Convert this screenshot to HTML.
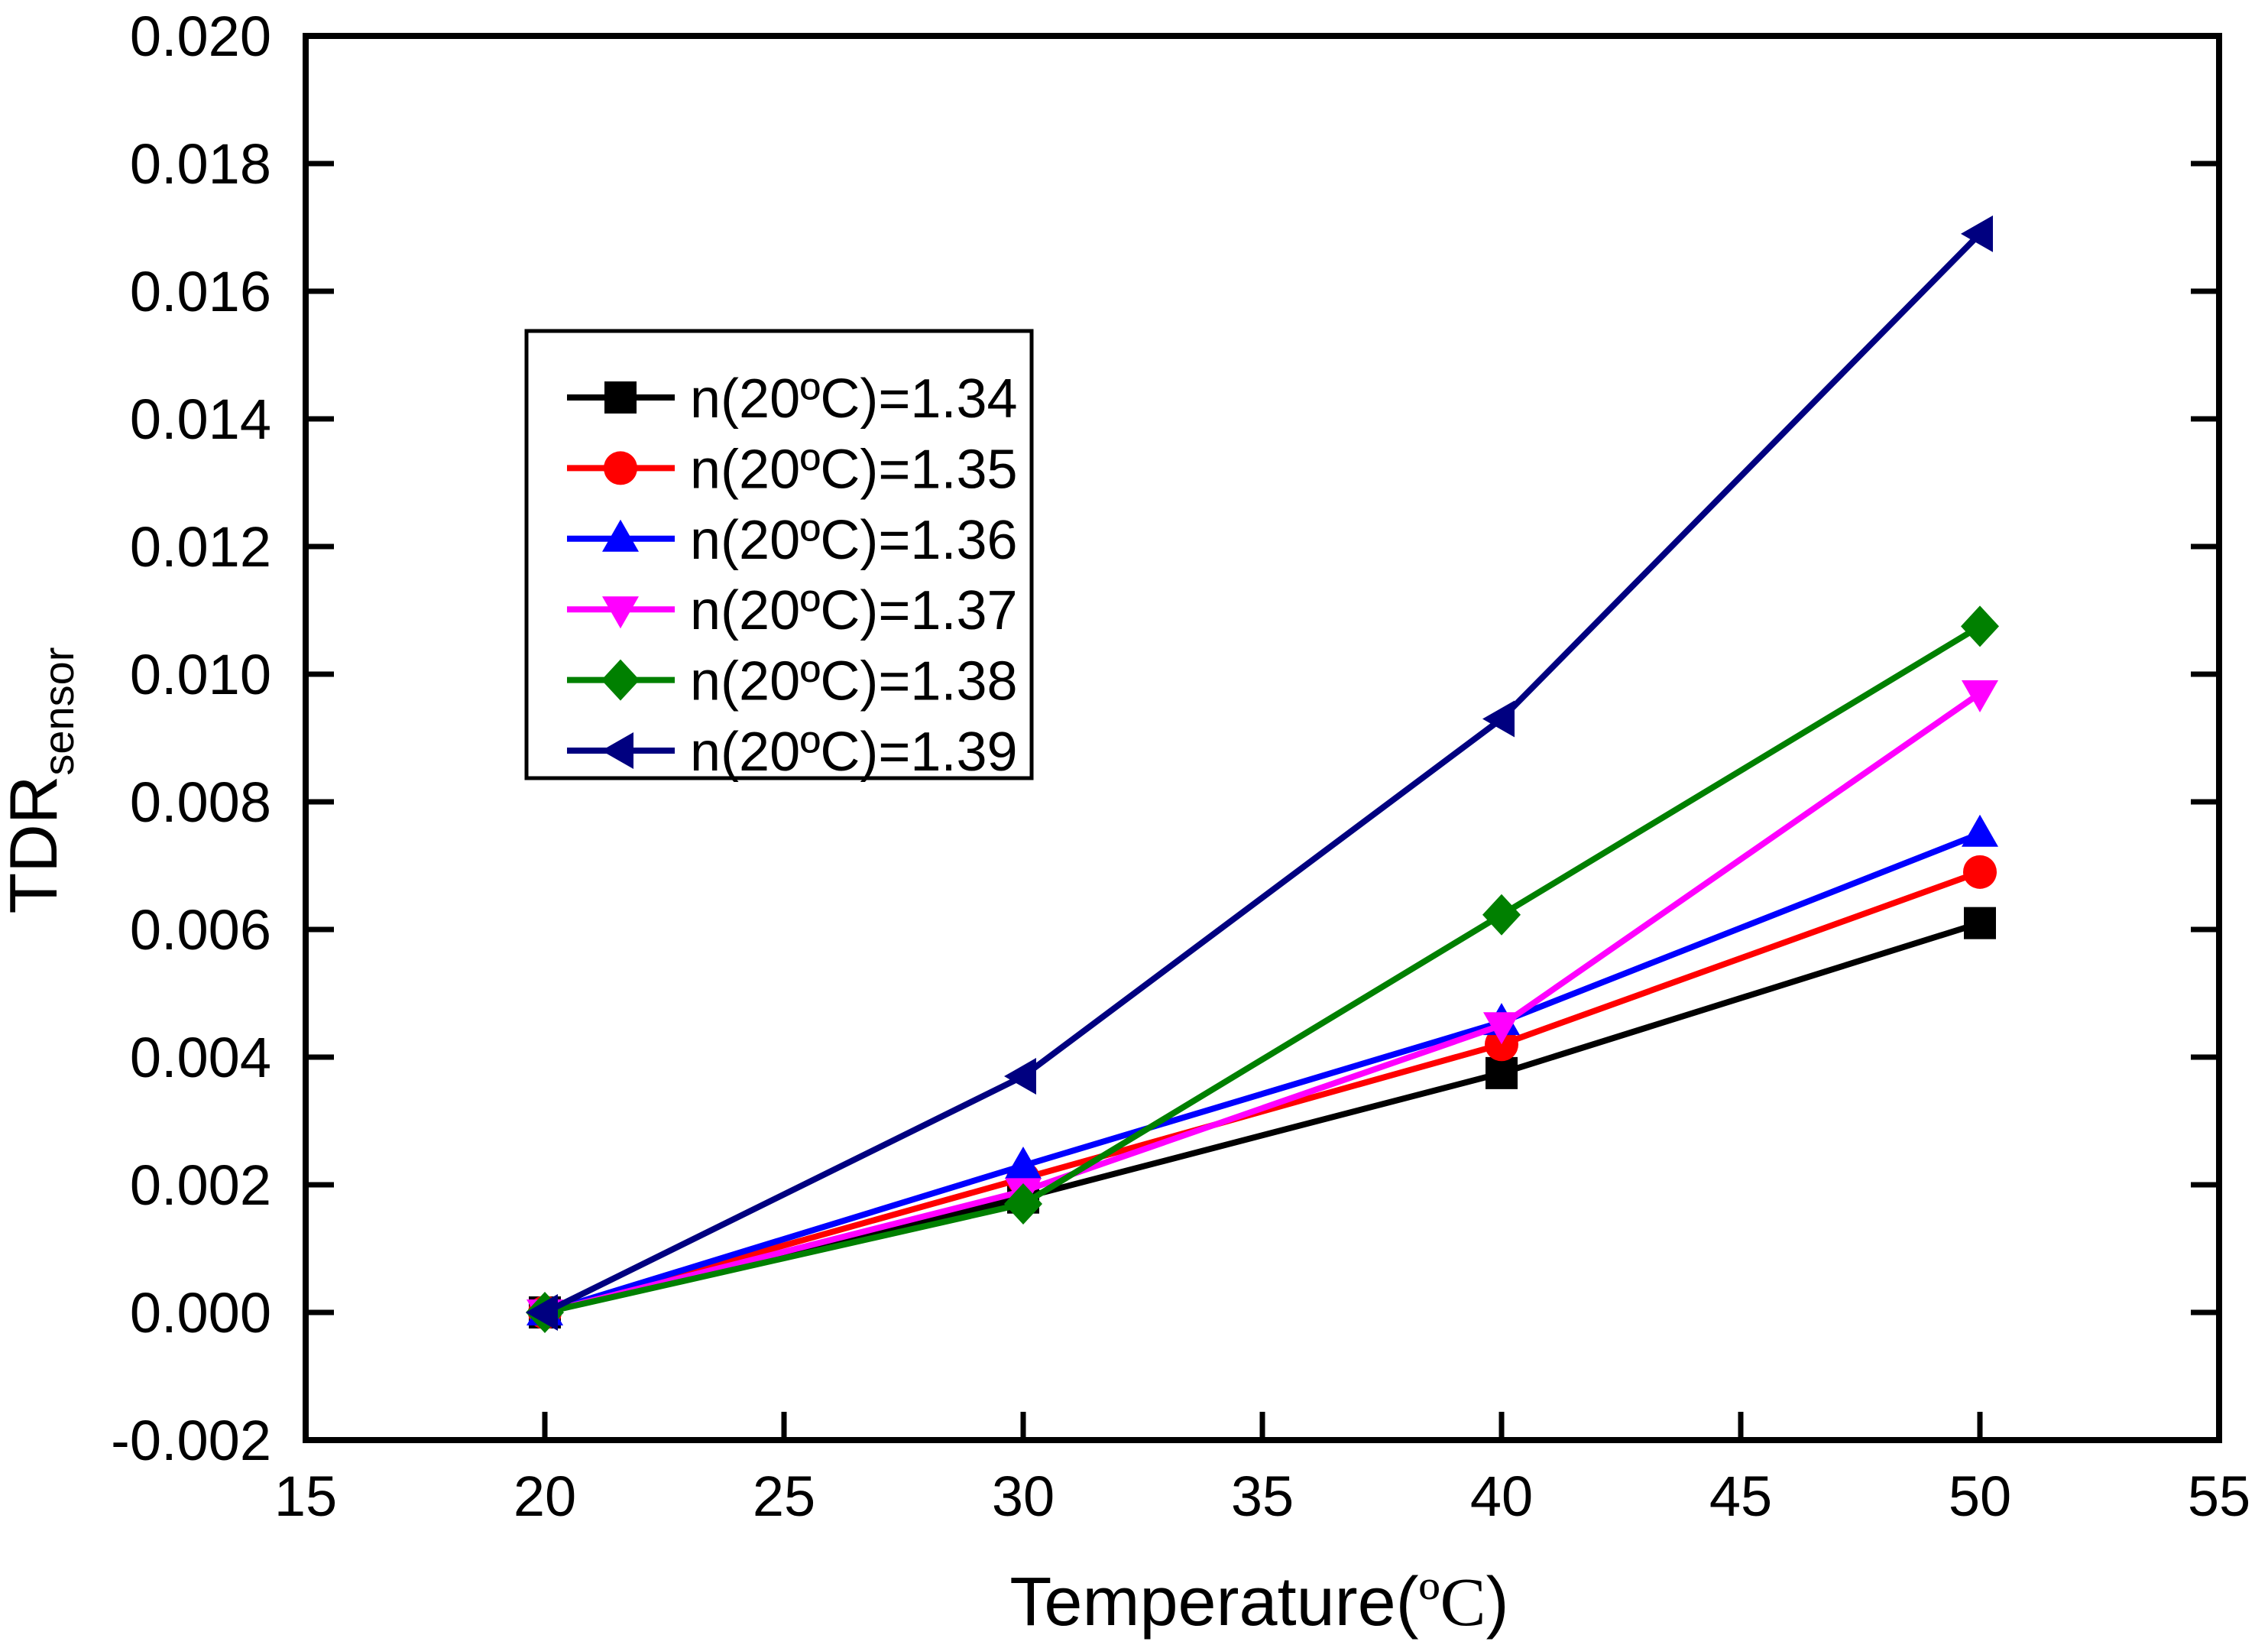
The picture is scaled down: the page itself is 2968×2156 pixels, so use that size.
<!DOCTYPE html>
<html><head><meta charset="utf-8"><style>
html,body{margin:0;padding:0;background:#fff;}
svg{display:block;font-family:"Liberation Sans","Noto Sans CJK SC",sans-serif;}
</style></head><body>
<svg id="chart" width="2968" height="2156" viewBox="0 0 2968 2156" xmlns="http://www.w3.org/2000/svg">
<rect width="2968" height="2156" fill="#fff"/>
<g id="marks"></g>
<g id="axes"></g>
<g id="legend"></g>
<text x="1648" y="2126" font-size="90" text-anchor="middle">Temperature(<tspan font-family="'Liberation Serif',serif">ºC</tspan>)</text>
<text transform="translate(74,1021) rotate(-90)" font-size="88" text-anchor="middle">TDR<tspan font-size="56" dy="22">sensor</tspan></text>
</svg>
<script>
const categories = [20, 30, 40, 50];
const labels = ["n(20ºC)=1.34","n(20ºC)=1.35","n(20ºC)=1.36","n(20ºC)=1.37","n(20ºC)=1.38","n(20ºC)=1.39"];
const s134 = [0, 0.0018, 0.00375, 0.0061];
const s135 = [0, 0.0021, 0.0042, 0.0069];
const s136 = [0, 0.0023, 0.00455, 0.0075];
const s137 = [0, 0.0019, 0.0045, 0.0097];
const s138 = [0, 0.0017, 0.00623, 0.01075];
const s139 = [0, 0.0037, 0.0093, 0.0169];
const xTicks = [15, 20, 25, 30, 35, 40, 45, 50, 55];
const yTicks = [-0.002, 0, 0.002, 0.004, 0.006, 0.008, 0.010, 0.012, 0.014, 0.016, 0.018, 0.020];

const L=400, R=2904, T=47, B=1884;
const X = v => L + (v-15)/(55-15)*(R-L);
const Y = v => B - (v+0.002)/(0.022)*(B-T);
const NS="http://www.w3.org/2000/svg";
function mk(tag, attrs, parent){const e=document.createElementNS(NS,tag);for(const k in attrs)e.setAttribute(k,attrs[k]);parent.appendChild(e);return e;}

const series=[
 {d:s134,c:"#000000",m:"square"},
 {d:s135,c:"#ff0000",m:"circle"},
 {d:s136,c:"#0000ff",m:"up"},
 {d:s137,c:"#ff00ff",m:"down"},
 {d:s138,c:"#008000",m:"diamond"},
 {d:s139,c:"#000080",m:"left"}
];
function marker(type,cx,cy,c,parent){
  const r=21;let e;
  if(type==="square") e=mk("rect",{x:cx-r,y:cy-r,width:2*r,height:2*r,fill:c},parent);
  else if(type==="circle") e=mk("circle",{cx:cx,cy:cy,r:r+1,fill:c},parent);
  else {
    let p;
    if(type==="up") p=[[cx,cy-25],[cx+24,cy+17],[cx-24,cy+17]];
    if(type==="down") p=[[cx,cy+25],[cx+24,cy-17],[cx-24,cy-17]];
    if(type==="diamond") p=[[cx,cy-27],[cx+25,cy],[cx,cy+27],[cx-25,cy]];
    if(type==="left") p=[[cx-25,cy],[cx+17,cy-24],[cx+17,cy+24]];
    e=mk("polygon",{points:p.map(q=>q.join(",")).join(" "),fill:c},parent);
  }
  return e;
}
const marks=document.getElementById("marks");
series.forEach((s,i)=>{
  const g=mk("g",{},marks);
  
  
  const pl=mk("polyline",{points:s.d.map((v,j)=>X(categories[j])+","+Y(v)).join(" "),fill:"none",stroke:s.c,"stroke-width":8,"stroke-linejoin":"round"},g);
  
  
  s.d.forEach((v,j)=>{
    const m=marker(s.m,X(categories[j]),Y(v),s.c,g);
    
    
  });
});

const axes=document.getElementById("axes");
const frame=mk("rect",{x:L,y:T,width:R-L,height:B-T,fill:"none",stroke:"#000","stroke-width":8},axes);


xTicks.forEach(v=>{
  const x=X(v);
  const t=mk("line",{x1:x,y1:B,x2:x,y2:B-37,stroke:"#000","stroke-width":7},axes);
  
  
  const tx=mk("text",{x:x,y:1983,"font-size":74,"text-anchor":"middle"},axes);
  tx.textContent=String(v);
  
  
});
yTicks.forEach(v=>{
  const y=Y(v);
  const t=mk("line",{x1:L,y1:y,x2:L+37,y2:y,stroke:"#000","stroke-width":7},axes);
  
  
  const t2=mk("line",{x1:R,y1:y,x2:R-37,y2:y,stroke:"#000","stroke-width":7},axes);
  
  
  const tx=mk("text",{x:355,y:y+26,"font-size":74,"text-anchor":"end"},axes);
  tx.textContent=v.toFixed(3);
  
  
});

const lg=document.getElementById("legend");
const box=mk("rect",{x:689,y:433,width:661,height:585,fill:"#fff",stroke:"#000","stroke-width":5},lg);


series.forEach((s,i)=>{
  const y=520+i*92.4;
  const g=mk("g",{},lg);
  
  
  mk("line",{x1:742,y1:y,x2:883,y2:y,stroke:s.c,"stroke-width":8},g);
  marker(s.m,812,y,s.c,g);
  const t=mk("text",{x:903,y:y+26,"font-size":72},g);
  t.textContent=labels[i];
  
  
});
</script>
</body></html>
